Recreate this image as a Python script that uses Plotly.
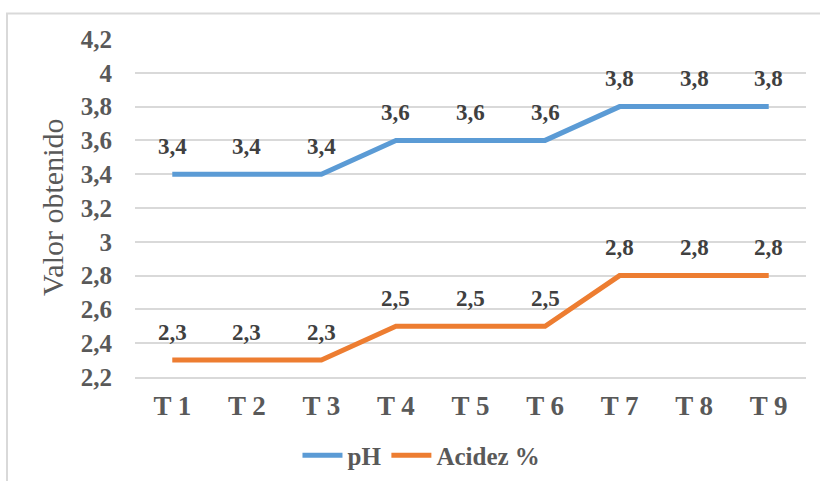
import plotly.graph_objects as go

# Treatments and measured values
categories = ["T 1", "T 2", "T 3", "T 4", "T 5", "T 6", "T 7", "T 8", "T 9"]
ph_values = [3.4, 3.4, 3.4, 3.6, 3.6, 3.6, 3.8, 3.8, 3.8]
acidez_values = [2.3, 2.3, 2.3, 2.5, 2.5, 2.5, 2.8, 2.8, 2.8]
y_ticks = [2.2, 2.4, 2.6, 2.8, 3.0, 3.2, 3.4, 3.6, 3.8, 4.0, 4.2]

BLUE = "#5B9BD5"
ORANGE = "#ED7D31"
SERIF = "Liberation Serif"


def comma(v):
    s = f"{v:.1f}".rstrip("0").rstrip(".")
    return s.replace(".", ",")


fig = go.Figure()
fig.add_trace(go.Scatter(x=categories, y=ph_values, mode="lines", name="pH",
                         line=dict(color=BLUE, width=5)))
fig.add_trace(go.Scatter(x=categories, y=acidez_values, mode="lines", name="Acidez %",
                         line=dict(color=ORANGE, width=5)))

# Data labels above each point
for series in (ph_values, acidez_values):
    for c, v in zip(categories, series):
        fig.add_annotation(x=c, y=v, text=comma(v), showarrow=False,
                           yshift=28,
                           font=dict(family=SERIF, size=23, color="#404040", weight="bold"))

# Vertical axis title
fig.add_annotation(xref="paper", yref="paper", x=(52 - 135) / 671, y=0.5,
                   text="Valor obtenido", textangle=-90, showarrow=False,
                   xanchor="center", yanchor="middle",
                   font=dict(family=SERIF, size=30, color="#595959"))

# Chart frame
fig.add_shape(type="rect", xref="paper", yref="paper",
              x0=(7 - 135) / 671, x1=1.2, y0=-0.6, y1=(377 - 13) / 338.5,
              line=dict(color="#D9D9D9", width=2), fillcolor="rgba(0,0,0,0)", layer="below")

fig.update_layout(
    width=820, height=481,
    margin=dict(l=135, r=14, t=38.5, b=104, autoexpand=False),
    paper_bgcolor="white", plot_bgcolor="white",
    font=dict(family=SERIF),
    showlegend=True,
    legend=dict(orientation="h", xref="container", yref="container",
                x=0.514, y=0.053, xanchor="center", yanchor="middle",
                font=dict(family=SERIF, size=25, color="#595959", weight="bold"),
                itemwidth=40, traceorder="normal"),
)
fig.update_xaxes(type="category", range=[-0.5, 8.5], showgrid=False,
                 showline=True, linecolor="#D9D9D9", linewidth=1.5,
                 ticks="", ticklabelstandoff=4, automargin=False,
                 tickfont=dict(family=SERIF, size=27, color="#595959", weight="bold"))
fig.update_yaxes(range=[2.2, 4.2], tickvals=y_ticks,
                 ticktext=[comma(v) for v in y_ticks],
                 showgrid=True, gridcolor="#D9D9D9", gridwidth=1.5,
                 zeroline=False, showline=False, ticks="", ticklabelstandoff=22,
                 automargin=False,
                 tickfont=dict(family=SERIF, size=25, color="#595959", weight="bold"))

fig.write_html("out.html")
